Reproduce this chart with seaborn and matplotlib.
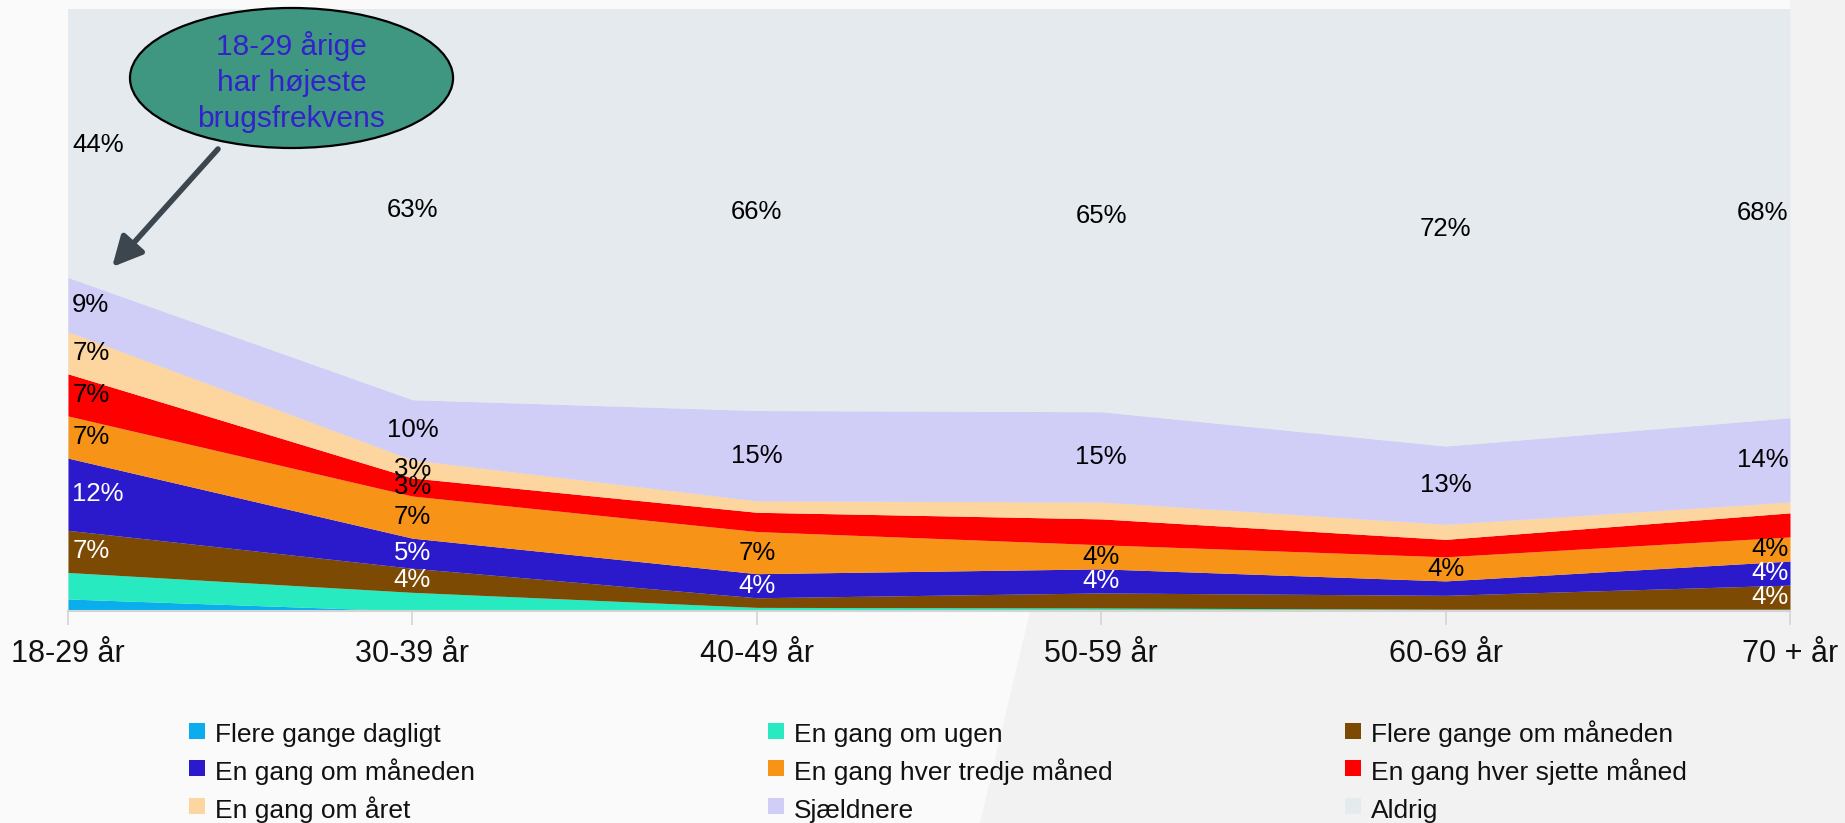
import matplotlib
matplotlib.use("Agg")
import matplotlib.pyplot as plt
from matplotlib.patches import Ellipse, Polygon
from matplotlib.lines import Line2D
import seaborn as sns

# Age groups on the x axis
age_groups = ["18-29 år", "30-39 år", "40-49 år", "50-59 år", "60-69 år", "70 + år"]

# Share of respondents (%) per usage frequency, per age group
flere_gange_dagligt = [2.0, 0.0, 0.0, 0.0, 0.0, 0.0]
en_gang_om_ugen = [4.4, 3.1, 0.6, 0.5, 0.3, 0.3]
flere_gange_om_maaneden = [7, 4, 1.6, 2.5, 2.3, 4]
en_gang_om_maaneden = [12, 5, 4, 4, 2.4, 4]
en_gang_hver_tredje_maaned = [7, 7, 7, 4, 4, 4]
en_gang_hver_sjette_maaned = [7, 3, 3.2, 4.3, 2.9, 4]
en_gang_om_aaret = [7, 3, 1.9, 2.8, 2.5, 1.8]
sjaeldnere = [9, 10, 15, 15, 13, 14]
aldrig = [44, 63, 66, 65, 72, 68]

series_names = [
    "Flere gange dagligt", "En gang om ugen", "Flere gange om måneden",
    "En gang om måneden", "En gang hver tredje måned", "En gang hver sjette måned",
    "En gang om året", "Sjældnere", "Aldrig",
]
series_values = [
    flere_gange_dagligt, en_gang_om_ugen, flere_gange_om_maaneden,
    en_gang_om_maaneden, en_gang_hver_tredje_maaned, en_gang_hver_sjette_maaned,
    en_gang_om_aaret, sjaeldnere, aldrig,
]
colors = ["#0AAEEC", "#27EAC0", "#7D4A04", "#2B1ACB", "#F79316",
          "#FF0000", "#FCD59F", "#D0CDF7", "#E5EAEF"]

# Which age groups carry a value label, per series
labelled = [
    [], [], [0, 1, 5], [0, 1, 2, 3, 5], [0, 1, 2, 3, 4, 5],
    [0, 1], [0, 1], [0, 1, 2, 3, 4, 5], [0, 1, 2, 3, 4, 5],
]
label_colors = ["black", "black", "white", "white", "black",
                "black", "black", "black", "black"]

sns.set_theme(style="white")
plt.rcParams["font.family"] = ["Liberation Sans", "DejaVu Sans"]

W, H = 1845, 823
fig = plt.figure(figsize=(W / 100, H / 100), dpi=100, facecolor="#FAFAFA")

# slanted slide-background shading, kept behind everything else
fig.patches.append(Polygon(
    [(1035 / W, 1 - 590 / H), (980 / W, 0), (1, 0), (1, 1), (1790 / W, 1),
     (1790 / W, 1 - 590 / H)],
    closed=True, transform=fig.transFigure, facecolor="#F2F2F2",
    edgecolor="none", zorder=-5))

ax = fig.add_axes([68 / W, 1 - 611 / H, (1790 - 68) / W, (611 - 9) / H])
ax.set_facecolor(colors[-1])

x = list(range(len(age_groups)))
ax.stackplot(x, *series_values, colors=colors, linewidth=0)

ax.set_xlim(0, len(age_groups) - 1)
ax.set_ylim(0, 100)
ax.set_yticks([])
ax.set_xticks(x)
ax.set_xticklabels(age_groups, fontsize=22, color="#111111")
ax.tick_params(axis="x", length=10, width=1.2, color="#D4D4D4", pad=10,
               bottom=True, direction="out")
for side in ["top", "right", "left"]:
    ax.spines[side].set_visible(False)
ax.spines["bottom"].set_color("#D4D4D4")
ax.spines["bottom"].set_linewidth(1.5)

# value labels at the middle of each band
n = len(age_groups)
bottoms = [0.0] * n
for vals, idxs, lc in zip(series_values, labelled, label_colors):
    for i in range(n):
        if i in idxs:
            mid = bottoms[i] + vals[i] / 2
            if i == 0:
                xo, ha = 0.012, "left"
            elif i == n - 1:
                xo, ha = -0.004, "right"
            else:
                xo, ha = 0.0, "center"
            ax.text(i + xo, mid, f"{vals[i]:g}%", ha=ha, va="center",
                    fontsize=18.5, color=lc)
    bottoms = [b + v for b, v in zip(bottoms, vals)]

# callout bubble with arrow
ax.add_patch(Ellipse((0.1298, 0.8854), 0.1876, 0.2326, transform=ax.transAxes,
                     facecolor="#3F9782", edgecolor="black", linewidth=1.6,
                     clip_on=False, zorder=5))
ax.text(0.1298, 0.879, "18-29 årige\nhar højeste\nbrugsfrekvens",
        transform=ax.transAxes, ha="center", va="center", fontsize=21.5,
        color="#3322CC", linespacing=1.36, zorder=6)
ax.annotate("", xy=(0.0256, 0.5714), xytext=(0.0871, 0.7674),
            xycoords="axes fraction", textcoords="axes fraction",
            arrowprops=dict(arrowstyle="-|>,head_length=0.9,head_width=0.45",
                            lw=4, color="#3C464E", mutation_scale=20,
                            shrinkA=0, shrinkB=0), zorder=6)

# legend laid out as three columns, filled row by row
handles = [Line2D([], [], linestyle="none", marker="s", markersize=11,
                  markerfacecolor=c, markeredgewidth=0) for c in colors]
col_x = [186, 765, 1342]
for col in range(3):
    idx = [col, col + 3, col + 6]
    fig.legend([handles[i] for i in idx], [series_names[i] for i in idx],
               loc="upper left", bbox_to_anchor=(col_x[col] / W, 1 - 719 / H),
               frameon=False, fontsize=19, handlelength=0.8, handleheight=1.3,
               handletextpad=0.3, labelspacing=0.34, borderpad=0,
               borderaxespad=0, labelcolor="#111111")

fig.savefig("out.png", dpi=100, facecolor=fig.get_facecolor())
